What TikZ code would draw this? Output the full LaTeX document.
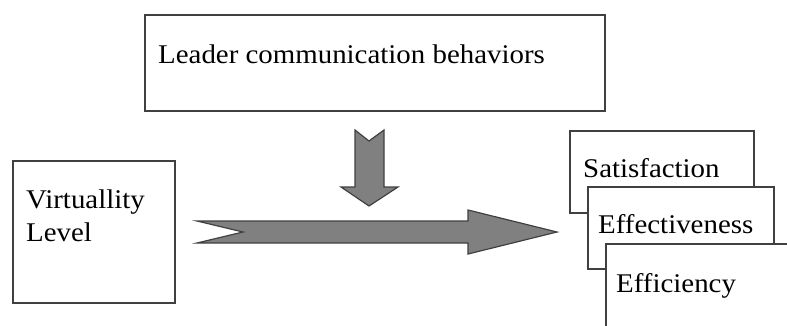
\documentclass[tikz,border=0pt]{standalone}
\usepackage{fontspec}
\setmainfont{Liberation Serif}[FakeStretch=1.07]
\usetikzlibrary{positioning,calc}

\definecolor{edge}{HTML}{404040}
\definecolor{arrowgray}{HTML}{808080}

\tikzset{
    box/.style={draw=edge, line width=1.6pt, fill=white, rectangle, anchor=north west, inner sep=0pt},
    txt/.style={anchor=base west, inner sep=0pt, font=\fontsize{27}{33}\selectfont, align=left},
    blockarrow/.style={draw=edge, line width=1.2pt, fill=arrowgray, line join=miter}
}

\begin{document}
\begin{tikzpicture}[x=1pt, y=-1pt]
    \useasboundingbox (0,0) rectangle (787,325);
    \clip (0,0) rectangle (787,325);

    % moderator on top
    \node[box, minimum width=460pt, minimum height=96pt] (leader) at (144,14) {};
    \node[txt] (leadertxt) at ([shift={(14,49)}]leader.north west) {Leader communication behaviors};

    % independent variable (base is the last line)
    \node[box, minimum width=162pt, minimum height=142pt] (virt) at (12,160) {};
    \node[txt] (virttxt) at ([shift={(14,81)}]virt.north west) {Virtuallity\\Level};

    % outcomes, stacked
    \node[box, minimum width=184pt, minimum height=82pt] (sat) at (569,130) {};
    \node[txt] (sattxt) at ([shift={(14,47)}]sat.north west) {Satisfaction};
    \node[box, minimum width=186pt, minimum height=82pt] (eff) at (587,186) {};
    \node[txt] (efftxt) at ([shift={(11,47)}]eff.north west) {Effectiveness};
    \node[box, minimum width=200pt, minimum height=100pt] (effic) at (605,243) {};
    \node[txt] (effictxt) at ([shift={(11,49)}]effic.north west) {Efficiency};

    % block arrows
    \coordinate (dtop) at (369,130);
    \draw[blockarrow] ($(dtop)+(-14,0)$) -- ($(dtop)+(0,11)$) -- ($(dtop)+(15,0)$)
        -- ($(dtop)+(15,57)$) -- ($(dtop)+(29,57)$) -- ($(dtop)+(0,76)$)
        -- ($(dtop)+(-28,57)$) -- ($(dtop)+(-14,57)$) -- cycle;

    \coordinate (htail) at (197,232);
    \draw[blockarrow] ($(htail)+(0,-11)$) -- ($(htail)+(271,-11)$) -- ($(htail)+(271,-22)$)
        -- ($(htail)+(360,0)$) -- ($(htail)+(271,22)$) -- ($(htail)+(271,11)$)
        -- ($(htail)+(0,11)$) -- ($(htail)+(46,0)$) -- cycle;
\end{tikzpicture}
\end{document}
